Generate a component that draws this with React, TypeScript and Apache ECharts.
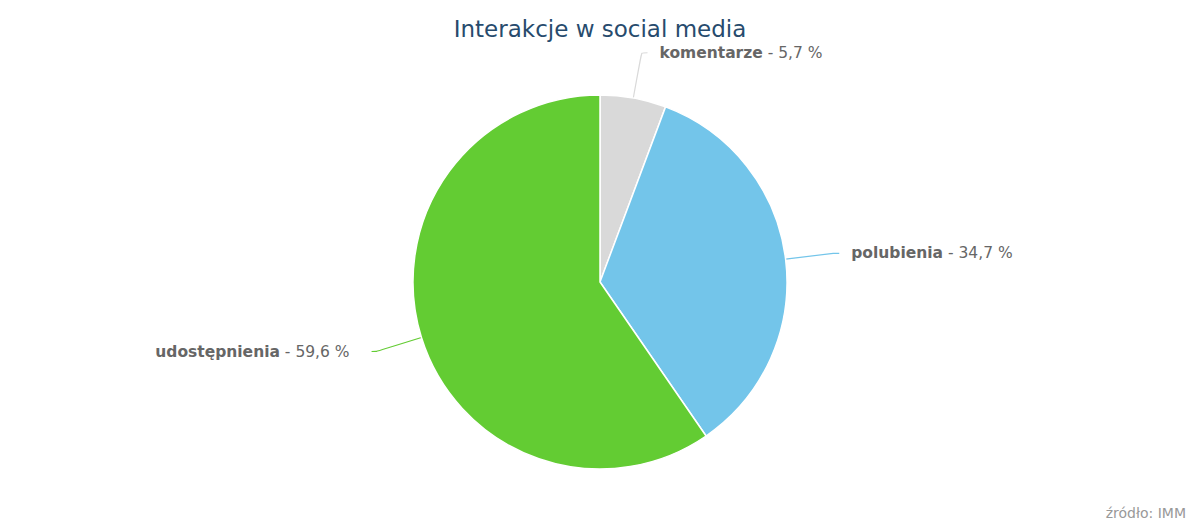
import React, { useEffect, useRef } from "react";
import * as echarts from "echarts";

const categories = ["komentarze", "polubienia", "udostępnienia"];
const values = [5.7, 34.7, 59.6];
const colors = ["#d9d9d9", "#73c5ea", "#63cc33"];
const labelLengths = [[46, 6], [48, 6], [47, 5]];
const labelGaps = [12, 12, 22];

export default function App() {
  const ref = useRef<HTMLDivElement>(null);
  useEffect(() => {
    document.body.style.margin = "0";
    const chart = echarts.init(ref.current!, null, { renderer: "svg" });
    chart.setOption({
      animation: false,
      backgroundColor: "#ffffff",
      title: {
        text: "Interakcje w social media",
        left: "center",
        top: 12,
        textStyle: { color: "#274b6d", fontSize: 23, fontWeight: "normal", fontFamily: "DejaVu Sans" },
      },
      graphic: [
        {
          type: "text",
          right: 14,
          bottom: 5,
          style: { text: "źródło: IMM", fill: "#999999", fontSize: 14, fontFamily: "DejaVu Sans" },
        },
      ],
      series: [
        {
          type: "pie",
          center: [600, 282],
          radius: 187,
          startAngle: 90,
          clockwise: true,
          avoidLabelOverlap: false,
          itemStyle: { borderColor: "#ffffff", borderWidth: 1.5 },
          label: {
            show: true,
            fontFamily: "DejaVu Sans",
            formatter: (p: any) => `{b|${p.name}}{n| - ${p.value.toFixed(1).replace(".", ",")} %}`,
            distanceToLabelLine: 12,
            rich: {
              b: { fontWeight: "bold", fontSize: 15.5, color: "#666666", fontFamily: "DejaVu Sans" },
              n: { fontSize: 15.5, color: "#666666", fontFamily: "DejaVu Sans" },
            },
          },
          labelLine: { show: true, smooth: 0.2, lineStyle: { width: 1.2 } },
          data: categories.map((c, i) => ({
            name: c,
            value: values[i],
            itemStyle: { color: colors[i] },
            label: { distanceToLabelLine: labelGaps[i] },
            labelLine: { length: labelLengths[i][0], length2: labelLengths[i][1] },
          })),
        },
      ],
    });
    return () => chart.dispose();
  }, []);
  return <div ref={ref} style={{ width: 1200, height: 525 }} />;
}
